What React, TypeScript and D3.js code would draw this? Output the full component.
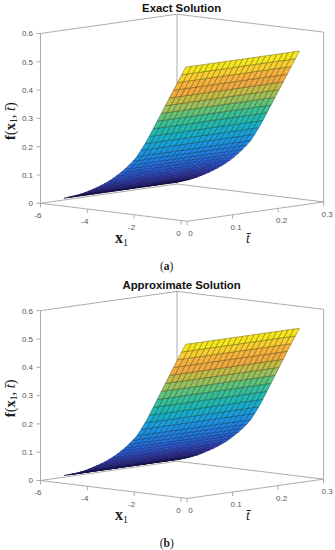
import React from "react";
import * as d3 from "d3";

// Grid of the surface
const x1Grid = [-5, -4.827, -4.653, -4.48, -4.307, -4.133, -3.96, -3.787, -3.613, -3.44, -3.267, -3.093, -2.92, -2.747, -2.573, -2.4, -2.227, -2.053, -1.88, -1.707, -1.533, -1.36, -1.187, -1.013, -0.84, -0.667, -0.493, -0.32, -0.147, 0.027, 0.2];
const tGrid = [0, 0.0125, 0.025, 0.0375, 0.05, 0.0625, 0.075, 0.0875, 0.1, 0.1125, 0.125, 0.1375, 0.15, 0.1625, 0.175, 0.1875, 0.2, 0.2125, 0.225, 0.2375, 0.25];

// Height of the surface along x1 (it hardly changes with t)
const exactValues = [0.028, 0.033, 0.038, 0.043, 0.049, 0.056, 0.063, 0.071, 0.079, 0.088, 0.097, 0.107, 0.118, 0.13, 0.143, 0.157, 0.172, 0.189, 0.207, 0.231, 0.256, 0.283, 0.312, 0.341, 0.37, 0.399, 0.428, 0.457, 0.486, 0.515, 0.544];
const approxValues = [0.028, 0.032, 0.036, 0.041, 0.047, 0.053, 0.06, 0.068, 0.076, 0.084, 0.093, 0.103, 0.113, 0.125, 0.138, 0.151, 0.166, 0.182, 0.2, 0.224, 0.249, 0.277, 0.307, 0.337, 0.367, 0.397, 0.427, 0.457, 0.486, 0.515, 0.544];

const x1Ticks = [-6, -4, -2, 0];
const tTicks = [0, 0.1, 0.2, 0.3];
const zTicks = [0, 0.1, 0.2, 0.3, 0.4, 0.5, 0.6];

// Colours sampled along the surface, from its lowest to its highest row
const colorStops = [0, 0.1, 0.2, 0.295, 0.39, 0.47, 0.52, 0.575, 0.63, 0.69, 0.75, 0.8, 0.857, 0.915, 0.973, 1];
const colorValues = ["#2a1f7a", "#3a3cc4", "#2a5fe0", "#1f7fe6", "#1a9ade", "#18b0c4", "#22b8ad", "#38bf96", "#5fc27a", "#9cc05a", "#c6bb44", "#efaa3f", "#f6b23c", "#f8cf2e", "#f5e61e", "#f9f00e"];

const AXIS = "#a3a3a3";
const LABEL = "#555";
const SANS = "'Liberation Sans', Arial, sans-serif";
const SERIF = "'Liberation Serif', serif";

// Oblique projection: each data axis adds its own screen offset
const x1X = d3.scaleLinear().domain([-6, 0]).range([0, 140.5]);
const x1Y = d3.scaleLinear().domain([-6, 0]).range([0, 17.2]);
const tX = d3.scaleLinear().domain([0, 0.3]).range([0, 136.5]);
const tY = d3.scaleLinear().domain([0, 0.3]).range([0, -19.3]);
const zY = d3.scaleLinear().domain([0, 0.6]).range([0, -169.8]);

const X1_MIN = -6;
const X1_MAX = 0.26;
const T_MAX = 0.3;
const Z_MAX = 0.6;

function project(x1: number, t: number, z: number): [number, number] {
  return [40.5 + x1X(x1) + tX(t), 203.3 + x1Y(x1) + tY(t) + zY(z)];
}

const line = d3.line();

function Panel({ title, values, caption, dy }: { title: string; values: number[]; caption: string; dy: number }) {
  const [zMin, zMax] = d3.extent(values) as [number, number];
  const color = d3
    .scaleLinear<string>()
    .domain(colorStops.map((f) => zMin + f * (zMax - zMin)))
    .range(colorValues)
    .interpolate(d3.interpolateRgb);

  // Back to front: low x1 first, far t first
  const cells: { d: string; fill: string; stroke: string }[] = [];
  for (let i = 0; i < x1Grid.length - 1; i++) {
    for (let j = tGrid.length - 2; j >= 0; j--) {
      const d = line([
        project(x1Grid[i], tGrid[j], values[i]),
        project(x1Grid[i], tGrid[j + 1], values[i]),
        project(x1Grid[i + 1], tGrid[j + 1], values[i + 1]),
        project(x1Grid[i + 1], tGrid[j], values[i + 1]),
      ])!;
      const fill = color((values[i] + values[i + 1]) / 2);
      // The thin black mesh reads as a darker tone of each cell at this size
      cells.push({ d: d + "Z", fill, stroke: d3.color(fill)!.darker(2.2).formatHex() });
    }
  }

  const floor = [
    [X1_MIN, 0, 0],
    [X1_MAX, 0, 0],
    [X1_MAX, T_MAX, 0],
    [X1_MIN, T_MAX, 0],
  ].map((p) => project(p[0], p[1], p[2]));
  const zLeftBottom = project(X1_MIN, 0, 0);
  const zLeftTop = project(X1_MIN, 0, Z_MAX);
  const backTop = project(X1_MIN, T_MAX, Z_MAX);
  const backBottom = project(X1_MIN, T_MAX, 0);
  const rightBottom = project(X1_MAX, T_MAX, 0);
  const rightTop = project(X1_MAX, T_MAX, Z_MAX);

  return (
    <g transform={`translate(0,${dy})`}>
      <text x={181.6} y={11.5} textAnchor="middle" fontFamily={SANS} fontWeight="bold" fontSize={11.4} fill="#111">
        {title}
      </text>

      {/* Box */}
      <g fill="none" stroke={AXIS} strokeWidth={0.9}>
        <path d={line(floor)! + "Z"} />
        <path d={line([zLeftBottom, zLeftTop, backTop, rightTop, rightBottom])!} />
        <path d={line([backTop, backBottom])!} />
        {x1Ticks.map((v) => {
          const p = project(v, 0, 0);
          return <path key={v} d={line([p, [p[0], p[1] + 4]])!} />;
        })}
        {tTicks.map((v) => {
          const p = project(X1_MAX, v, 0);
          return <path key={v} d={line([p, [p[0], p[1] + 4]])!} />;
        })}
        {zTicks.map((v) => {
          const p = project(X1_MIN, 0, v);
          return <path key={v} d={line([p, [p[0] - 4, p[1]]])!} />;
        })}
      </g>

      {/* Surface */}
      <g strokeWidth={0.5} strokeLinejoin="round">
        {cells.map((c, i) => (
          <path key={i} d={c.d} fill={c.fill} stroke={c.stroke} />
        ))}
      </g>

      {/* Tick labels */}
      <g fontFamily={SANS} fontSize={8} fill={LABEL}>
        {zTicks.map((v) => {
          const p = project(X1_MIN, 0, v);
          return (
            <text key={v} x={p[0] - 7.5} y={p[1] + 2.9} textAnchor="end">
              {v}
            </text>
          );
        })}
        {x1Ticks.map((v) => {
          const p = project(v, 0, 0);
          return (
            <text key={v} x={p[0] - 2.5} y={p[1] + 15} textAnchor="middle">
              {v}
            </text>
          );
        })}
        {tTicks.map((v) => {
          const p = project(X1_MAX, v, 0);
          return (
            <text key={v} x={p[0] + 3.5} y={p[1] + 15} textAnchor="middle">
              {v}
            </text>
          );
        })}
      </g>

      {/* Axis labels */}
      <text x={115} y={243} fontFamily={SERIF} fontWeight="bold" fontSize={16} fill="#222">
        x<tspan fontSize={10} fontWeight="normal" dy={3}>1</tspan>
      </text>
      <text x={248} y={243} textAnchor="middle" fontFamily={SERIF} fontStyle="italic" fontSize={14} fill="#222">
        t̄
      </text>
      <text transform="translate(15,140) rotate(-90)" fontFamily={SERIF} fontSize={14.5} fill="#222">
        <tspan fontWeight="bold">f</tspan>(<tspan fontWeight="bold">x</tspan>
        <tspan fontSize={9.5} dy={2}>1</tspan>
        <tspan dy={-2}>, </tspan>
        <tspan fontStyle="italic">t̄</tspan>)
      </text>

      <text x={166.7} y={270} textAnchor="middle" fontFamily={SERIF} fontSize={11.5} fill="#222">
        (<tspan fontWeight="bold">{caption}</tspan>)
      </text>
    </g>
  );
}

export default function App() {
  return (
    <svg width={335} height={550} style={{ position: "absolute", left: 0, top: 0, background: "#fff" }}>
      <Panel title="Exact Solution" values={exactValues} caption="a" dy={0} />
      <Panel title="Approximate Solution" values={approxValues} caption="b" dy={277.2} />
    </svg>
  );
}
